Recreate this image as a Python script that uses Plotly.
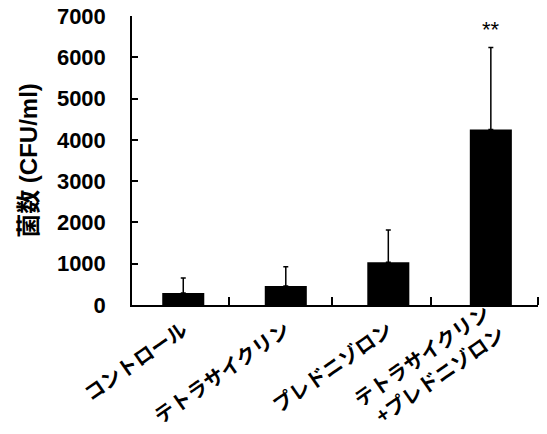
import plotly.graph_objects as go

# Bacterial counts per treatment group (mean and upper SD)
categories = ["コントロール", "テトラサイクリン", "プレドニゾロン", "テトラサイクリン<br>+プレドニゾロン"]
counts = [291, 461, 1035, 4251]
sd_upper = [365, 468, 784, 1988]
y_ticks = [0, 1000, 2000, 3000, 4000, 5000, 6000, 7000]
significance = "**"

num_font = "Liberation Sans, Arial, sans-serif"
jp_font = "Noto Sans CJK JP, sans-serif"
positions = list(range(len(categories)))
x_range = [-0.5, 3.46]
separator_ticks = [0.45, 1.45, 2.42, 3.46]

fig = go.Figure()
fig.add_trace(go.Bar(
    x=positions,
    y=counts,
    width=0.41,
    marker=dict(color="black", line=dict(width=0)),
    error_y=dict(type="data", symmetric=False, array=sd_upper,
                 arrayminus=[0] * len(counts),
                 color="black", thickness=1.5, width=2.5),
))
# empty trace so the secondary x axis (two-line label) is drawn
fig.add_trace(go.Scatter(x=[positions[-1]], y=[None], xaxis="x2",
                         mode="markers", showlegend=False, hoverinfo="skip"))

fig.add_annotation(
    x=3, y=counts[3] + sd_upper[3], text=significance, showarrow=False,
    yshift=18, font=dict(family=num_font, size=22, color="black"),
    xanchor="center", yanchor="middle",
)

label_font = dict(family=jp_font, size=20, color="black", weight="bold")

fig.update_layout(
    width=547, height=434,
    margin=dict(l=132, r=9, t=16, b=129),
    paper_bgcolor="white", plot_bgcolor="white",
    showlegend=False,
    xaxis=dict(
        range=x_range,
        automargin=False,
        tickmode="array",
        tickvals=positions[:-1],
        ticktext=categories[:-1],
        tickangle=-35,
        showline=True, linecolor="black", linewidth=1.5,
        ticks="", showgrid=False, zeroline=False,
        tickfont=label_font,
        ticklabelstandoff=4,
        minor=dict(tickmode="array", tickvals=separator_ticks,
                   ticks="inside", ticklen=8, tickwidth=1.5, tickcolor="black",
                   showgrid=False),
    ),
    xaxis2=dict(
        range=x_range,
        overlaying="x", anchor="y", side="bottom",
        automargin=False,
        tickmode="array",
        tickvals=positions[-1:],
        ticktext=categories[-1:],
        tickangle=-35,
        showline=False, ticks="", showgrid=False, zeroline=False,
        tickfont=label_font,
        ticklabelstandoff=-8,
        ticklabelshift=-5,
    ),
    yaxis=dict(
        range=[0, 7000],
        automargin=False,
        tickmode="array", tickvals=y_ticks,
        ticks="inside", ticklen=6, tickwidth=1.5, tickcolor="black",
        showline=True, linecolor="black", linewidth=1.5,
        showgrid=False, zeroline=False,
        tickfont=dict(family=num_font, size=22, color="black", weight="bold"),
        ticklabelstandoff=20,
        title=dict(text="菌数 (CFU/ml)", standoff=12,
                   font=dict(family=num_font + ", " + jp_font, size=24,
                             color="black", weight="bold")),
    ),
)

fig.write_html("out.html")
